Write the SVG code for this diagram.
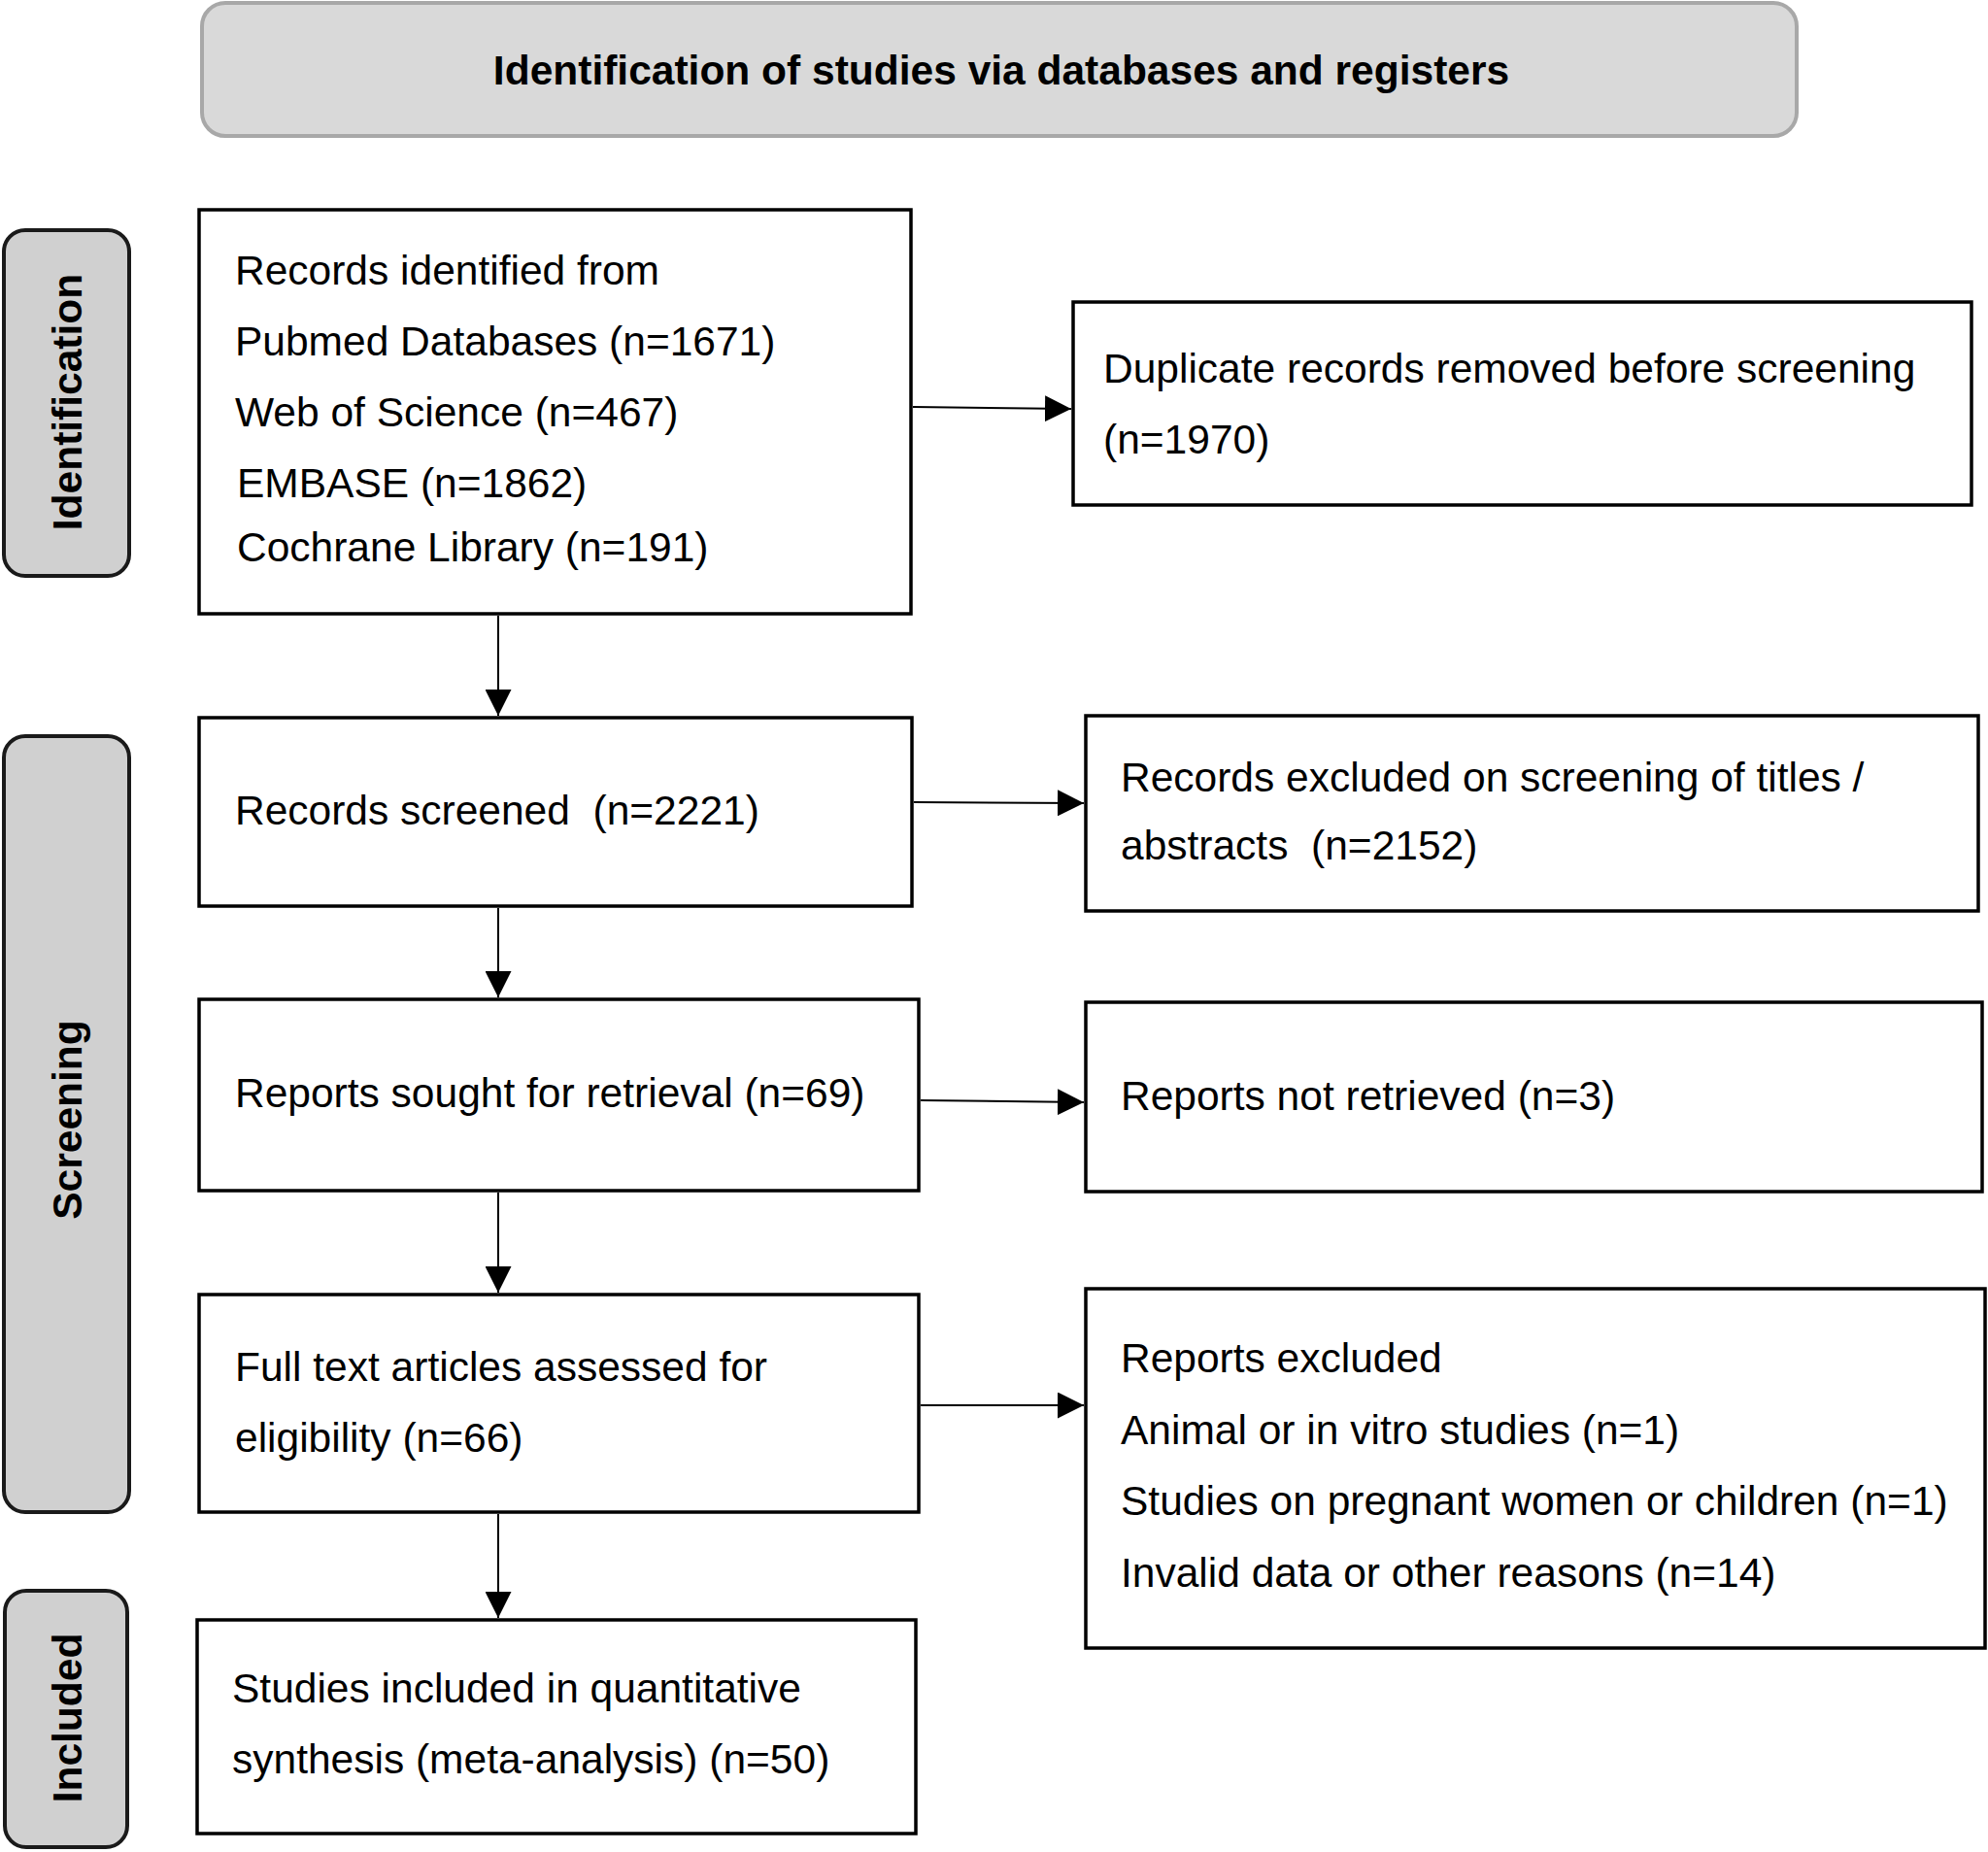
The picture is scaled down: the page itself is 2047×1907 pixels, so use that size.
<svg xmlns="http://www.w3.org/2000/svg" width="2047" height="1907" viewBox="0 0 2047 1907">
  <style>
    .box { fill: #ffffff; stroke: #000000; stroke-width: 3.5; }
    .stage { fill: #d0d0d0; stroke: #1a1a1a; stroke-width: 4; }
    .title { fill: #d9d9d9; stroke: #a8a8a8; stroke-width: 4; }
    .txt { font-family: "Liberation Sans", Arial, sans-serif; font-size: 42.5px; fill: #000000; white-space: pre; }
    .bold { font-family: "Liberation Sans", Arial, sans-serif; font-size: 42.5px; font-weight: bold; fill: #000000; }
    .conn { stroke: #000000; stroke-width: 2; fill: none; }
  </style>
  <defs>
    <marker id="arrow" markerUnits="userSpaceOnUse" markerWidth="27" markerHeight="27" refX="27" refY="13.5" orient="auto">
      <path d="M0,0 L27,13.5 L0,27 Z" fill="#000000"/>
    </marker>
  </defs>
  <rect width="2047" height="1907" fill="#ffffff"/>

  <g id="title">
    <rect class="title" x="208" y="3" width="1642" height="137" rx="24" ry="24"/>
    <text class="bold" x="1031" y="87" text-anchor="middle">Identification of studies via databases and registers</text>
  </g>

  <g id="stage-identification">
    <rect class="stage" x="4" y="237" width="129" height="356" rx="22" ry="22"/>
    <text class="bold" x="84" y="414" text-anchor="middle" transform="rotate(-90 84 414)">Identification</text>
  </g>
  <g id="stage-screening">
    <rect class="stage" x="4" y="758" width="129" height="799" rx="22" ry="22"/>
    <text class="bold" x="84" y="1153" text-anchor="middle" transform="rotate(-90 84 1153)">Screening</text>
  </g>
  <g id="stage-included">
    <rect class="stage" x="5" y="1638" width="126" height="264" rx="22" ry="22"/>
    <text class="bold" x="84" y="1769" text-anchor="middle" transform="rotate(-90 84 1769)">Included</text>
  </g>

  <g id="records-identified">
    <rect class="box" x="205" y="216" width="733" height="416"/>
    <text class="txt" x="242" y="293">Records identified from</text>
    <text class="txt" x="242" y="366">Pubmed Databases (n=1671)</text>
    <text class="txt" x="242" y="439">Web of Science (n=467)</text>
    <text class="txt" x="244" y="512">EMBASE (n=1862)</text>
    <text class="txt" x="244" y="578">Cochrane Library (n=191)</text>
  </g>

  <g id="duplicates-removed">
    <rect class="box" x="1105" y="311" width="925" height="209"/>
    <text class="txt" x="1136" y="394">Duplicate records removed before screening</text>
    <text class="txt" x="1136" y="467">(n=1970)</text>
  </g>

  <g id="records-screened">
    <rect class="box" x="205" y="739" width="734" height="194"/>
    <text class="txt" x="242" y="849" xml:space="preserve">Records screened  (n=2221)</text>
  </g>

  <g id="records-excluded">
    <rect class="box" x="1118" y="737" width="919" height="201"/>
    <text class="txt" x="1154" y="815">Records excluded on screening of titles /</text>
    <text class="txt" x="1154" y="885" xml:space="preserve">abstracts  (n=2152)</text>
  </g>

  <g id="reports-sought">
    <rect class="box" x="205" y="1029" width="741" height="197"/>
    <text class="txt" x="242" y="1140">Reports sought for retrieval (n=69)</text>
  </g>

  <g id="reports-not-retrieved">
    <rect class="box" x="1118" y="1032" width="923" height="195"/>
    <text class="txt" x="1154" y="1143">Reports not retrieved (n=3)</text>
  </g>

  <g id="full-text-assessed">
    <rect class="box" x="205" y="1333" width="741" height="224"/>
    <text class="txt" x="242" y="1422">Full text articles assessed for</text>
    <text class="txt" x="242" y="1495">eligibility (n=66)</text>
  </g>

  <g id="reports-excluded">
    <rect class="box" x="1118" y="1327" width="926" height="370"/>
    <text class="txt" x="1154" y="1413">Reports excluded</text>
    <text class="txt" x="1154" y="1487">Animal or in vitro studies (n=1)</text>
    <text class="txt" x="1154" y="1560">Studies on pregnant women or children (n=1)</text>
    <text class="txt" x="1154" y="1634">Invalid data or other reasons (n=14)</text>
  </g>

  <g id="studies-included">
    <rect class="box" x="203" y="1668" width="740" height="220"/>
    <text class="txt" x="239" y="1753">Studies included in quantitative</text>
    <text class="txt" x="239" y="1826">synthesis (meta-analysis) (n=50)</text>
  </g>

  <g id="connectors">
    <line class="conn" x1="940" y1="419" x2="1103" y2="421" marker-end="url(#arrow)"/>
    <line class="conn" x1="941" y1="826" x2="1116" y2="827" marker-end="url(#arrow)"/>
    <line class="conn" x1="948" y1="1133" x2="1116" y2="1135" marker-end="url(#arrow)"/>
    <line class="conn" x1="948" y1="1447" x2="1116" y2="1447" marker-end="url(#arrow)"/>
    <line class="conn" x1="513" y1="634" x2="513" y2="737" marker-end="url(#arrow)"/>
    <line class="conn" x1="513" y1="935" x2="513" y2="1027" marker-end="url(#arrow)"/>
    <line class="conn" x1="513" y1="1228" x2="513" y2="1331" marker-end="url(#arrow)"/>
    <line class="conn" x1="513" y1="1559" x2="513" y2="1666" marker-end="url(#arrow)"/>
  </g>
</svg>
